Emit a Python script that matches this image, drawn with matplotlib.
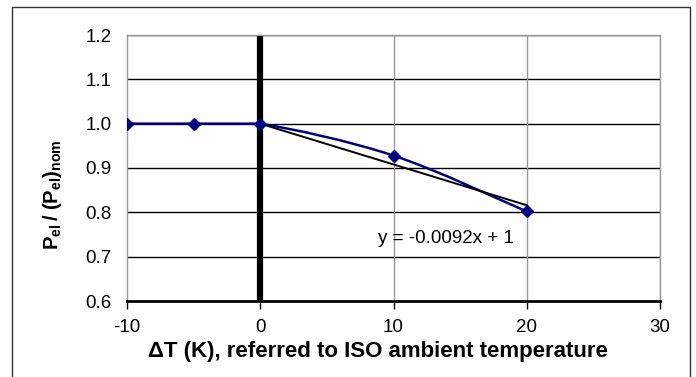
import matplotlib
matplotlib.use('Agg')
import matplotlib.pyplot as plt
from matplotlib.path import Path
from matplotlib.patches import PathPatch, Rectangle

plt.rcParams['font.family'] = ['Liberation Sans', 'DejaVu Sans']
plt.rcParams['mathtext.fontset'] = 'custom'
plt.rcParams['mathtext.rm'] = 'Liberation Sans'
plt.rcParams['mathtext.bf'] = 'Liberation Sans:bold'
plt.rcParams['axes.unicode_minus'] = False

# data
delta_t = [-10, -5, 0, 10, 20]
p_ratio = [1.0, 1.0, 1.0, 0.928, 0.802]
trend_slope = -0.0092
trend_icpt = 1.0
trend_x = [0, 20]
x_ticks = [-10, 0, 10, 20, 30]
y_ticks = [0.6, 0.7, 0.8, 0.9, 1.0, 1.1, 1.2]


def smooth_path(xs, ys, t=1.0 / 6):
    # bezier smoothing similar to excel's smoothed line, flat runs stay flat
    verts = [(xs[0], ys[0])]
    codes = [Path.MOVETO]
    n = len(xs)
    for i in range(n - 1):
        if ys[i] == ys[i + 1]:
            verts.append((xs[i + 1], ys[i + 1]))
            codes.append(Path.LINETO)
            continue
        x0, y0 = (xs[i - 1], ys[i - 1]) if i > 0 else (xs[i], ys[i])
        x3, y3 = (xs[i + 2], ys[i + 2]) if i + 2 < n else (xs[i + 1], ys[i + 1])
        c1 = (xs[i] + (xs[i + 1] - x0) * t, ys[i] + (ys[i + 1] - y0) * t)
        c2 = (xs[i + 1] - (x3 - xs[i]) * t, ys[i + 1] - (y3 - ys[i]) * t)
        verts += [c1, c2, (xs[i + 1], ys[i + 1])]
        codes += [Path.CURVE4] * 3
    return Path(verts, codes)


fig = plt.figure(figsize=(6.96, 3.77), dpi=100)
ax = fig.add_axes([127 / 696, 1 - 301 / 377, 533 / 696, 266 / 377])

# outer frame
fig.patches.append(Rectangle((12 / 696, -0.01), 678 / 696, (377 - 7) / 377 + 0.01,
                             transform=fig.transFigure, fill=False,
                             edgecolor='#333333', linewidth=1.0))

ax.set_xlim(-10, 30)
ax.set_ylim(0.6, 1.2)

for y in y_ticks[1:]:
    ax.axhline(y, color='black', linewidth=1.0, zorder=1)
for x in x_ticks[1:]:
    ax.axvline(x, color='#999999', linewidth=1.0, zorder=1)
ax.axvline(0, color='black', linewidth=4.5, zorder=2)

ax.add_patch(PathPatch(smooth_path(delta_t, p_ratio), fill=False,
                       edgecolor='#000080', linewidth=1.8, zorder=3))
ax.plot(delta_t, p_ratio, linestyle='none', marker='D', markersize=6,
        color='#000080', zorder=4)

ax.plot(trend_x, [trend_slope * x + trend_icpt for x in trend_x],
        color='black', linewidth=1.4, zorder=3)
ax.text(8.8, 0.741, 'y = -0.0092x + 1', fontsize=13.5, va='center', ha='left')

for s in ['top', 'right', 'left']:
    ax.spines[s].set_color('#999999')
    ax.spines[s].set_linewidth(1.0)
ax.spines['bottom'].set_color('black')
ax.spines['bottom'].set_linewidth(2.0)

ax.set_xticks(x_ticks)
ax.set_yticks(y_ticks)
ax.set_yticklabels(['%.1f' % v for v in y_ticks])
ax.tick_params(axis='x', direction='out', length=6, width=1, labelsize=13.5, pad=7)
ax.tick_params(axis='y', length=0, labelsize=13.5, pad=11)

ax.set_xlabel('ΔT (K), referred to ISO ambient temperature', fontsize=16,
              fontweight='bold')
ax.xaxis.set_label_coords(0.47, -0.15)
ax.set_ylabel(r'$\mathbf{P_{el}\,/\;(P_{el})_{nom}}$', fontsize=14.5)
ax.yaxis.set_label_coords(-0.118, 0.4)

fig.savefig('out.png', dpi=100)
